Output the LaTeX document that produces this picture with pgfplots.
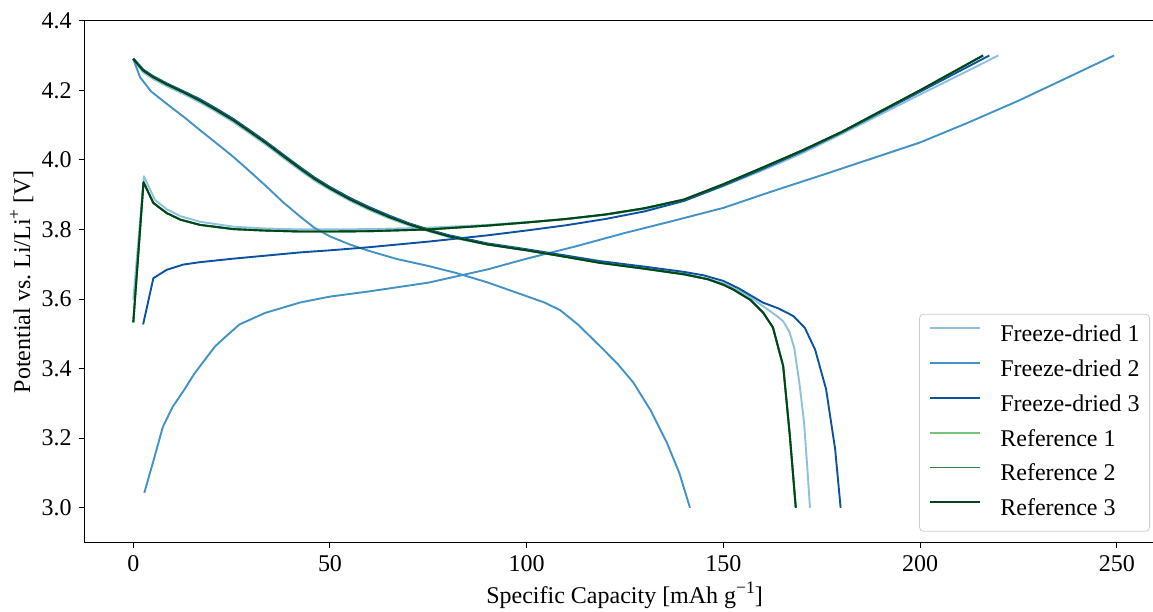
\documentclass[border=0pt]{standalone}
\usepackage{fontspec}
\setmainfont{Liberation Serif}
\usepackage{pgfplots}
\usepackage{pgfplotstable}
\pgfplotsset{compat=1.18}

\definecolor{fdA}{HTML}{8CC0DE}
\definecolor{fdB}{HTML}{4292C6}
\definecolor{fdC}{HTML}{0B52A0}
\definecolor{refA}{HTML}{74C476}
\definecolor{refB}{HTML}{238B45}
\definecolor{refC}{HTML}{00441B}

\newcommand{\sups}[1]{\raisebox{0.42em}{\fontsize{8.8}{10}\selectfont #1}}

% Reference cells: charge and discharge (capacity in mAh/g, potential in V)
\pgfplotstableread{
x y
0.0 3.533
2.6 3.936
5.1 3.876
8.5 3.847
12 3.828
17 3.813
25.4 3.801
33 3.797
42.4 3.794
50 3.794
60 3.795
75 3.800
90 3.811
100 3.820
110 3.830
120 3.843
130 3.861
140 3.886
150 3.930
160 3.978
170 4.027
180 4.080
190 4.140
200 4.200
208 4.250
216 4.300
}\refcharge
\pgfplotstableread{
x y
0.0 4.290
2.5 4.257
5 4.238
8.5 4.217
13 4.193
17 4.170
21 4.144
25.4 4.114
29.5 4.082
33.9 4.047
38 4.012
42.4 3.975
46 3.946
50 3.918
55 3.887
60 3.860
65 3.836
70 3.815
75 3.797
80 3.781
90 3.757
100 3.740
110 3.721
118.6 3.704
130 3.687
140 3.671
146 3.657
150 3.641
152.4 3.628
156.8 3.598
160.1 3.561
162.6 3.518
165.2 3.407
166.9 3.206
168.4 3.000
}\refdischarge

\begin{document}
\begin{tikzpicture}
\begin{axis}[
  at={(0,0)}, anchor=south west,
  scale only axis, width=534.5pt, height=261pt,
  xmin=-12.46, xmax=259.2, ymin=2.9, ymax=4.4,
  axis x line*=box, axis y line*=left,
  axis line style={-, line width=0.55pt, black},
  xtick={0,50,100,150,200,250},
  ytick={3.0,3.2,3.4,3.6,3.8,4.0,4.2,4.4},
  xtick pos=lower, ytick pos=left,
  tick align=outside, major tick length=2.8pt,
  tick style={line width=0.5pt, black},
  /pgf/number format/assume math mode=true,
  yticklabel style={/pgf/number format/.cd, fixed, fixed zerofill, precision=1},
  tick label style={font=\fontsize{12}{14}\selectfont},
  label style={font=\fontsize{12}{14}\selectfont},
  xlabel={Specific Capacity [mAh g\sups{−1}]},
  ylabel={Potential vs.\ Li/Li\sups{+} [V]},
  xlabel style={at={(axis description cs:0.5056,-0.1169)}, anchor=base},
  ylabel style={at={(axis description cs:-0.0586,0.5)}, anchor=center, rotate=0},
  every axis plot/.append style={line width=0.95pt, line join=round},
  legend cell align=left,
  legend image code/.code={\draw[#1, line width=0.95pt] (0pt,3.7pt) -- (25pt,3.7pt);},
  legend style={at={(axis description cs:0.9972,0.021)}, anchor=south east,
    draw=black!20, rounded corners=2pt, fill=white,
    font=\fontsize{12}{14}\selectfont,
    inner xsep=5pt, inner ysep=4.75pt, row sep=5.4pt, column sep=9.5pt,
    nodes={inner sep=0pt, text height=9pt, text depth=3pt}},
]

% Freeze-dried 1
\addplot[color=fdA] coordinates {
(0.0,3.598) (2.7,3.953) (5.5,3.885) (8.5,3.858) (12,3.838) (17,3.822)
(25.4,3.808) (33,3.803) (42.4,3.800) (50,3.800) (60,3.801) (75,3.805)
(90,3.813) (100,3.821) (110,3.830) (120,3.842) (130,3.859) (140,3.883)
(150,3.925) (160,3.970) (170,4.019) (180,4.074) (190,4.131) (200,4.188)
(210,4.244) (219.9,4.300)};
\addlegendentry{Freeze-dried 1}
\addplot[color=fdA, forget plot] coordinates {
(0.0,4.288) (2.5,4.252) (5,4.233) (8.5,4.212) (13,4.188) (17,4.165)
(21,4.139) (25.4,4.109) (29.5,4.077) (33.9,4.042) (38,4.007) (42.4,3.970)
(46,3.941) (50,3.914) (55,3.883) (60,3.856) (65,3.832) (70,3.812) (75,3.795)
(80,3.779) (90,3.756) (100,3.740) (110,3.722) (118.6,3.706) (130,3.689)
(140,3.673) (146,3.658) (150,3.645) (155,3.618) (158,3.596) (161,3.572)
(163.5,3.552) (165.2,3.536) (166.8,3.505) (168,3.460) (169.3,3.360)
(170.5,3.245) (171.3,3.120) (172,3.000)};

% Freeze-dried 2
\addplot[color=fdB] coordinates {
(2.8,3.043) (5,3.130) (7.5,3.232) (10,3.290) (13,3.340) (15.5,3.385)
(18.3,3.427) (20.8,3.464) (23.3,3.490) (27,3.527) (33.5,3.560) (42.4,3.590)
(50,3.607) (60,3.622) (75,3.647) (90,3.685) (100,3.716) (112,3.750)
(125,3.790) (137,3.824) (150,3.862) (162,3.908) (175,3.956) (187,4.001)
(200,4.050) (212,4.106) (225,4.170) (237,4.234) (249.3,4.300)};
\addlegendentry{Freeze-dried 2}
\addplot[color=fdB, forget plot] coordinates {
(0.0,4.290) (1.7,4.238) (4.5,4.197) (8.5,4.161) (13,4.122) (17,4.085)
(21,4.049) (25.4,4.009) (29.5,3.968) (33.9,3.923) (38,3.879) (42.4,3.837)
(46,3.805) (50,3.780) (55,3.757) (60,3.738) (67,3.715) (75,3.695)
(82,3.675) (90,3.648) (100,3.608) (104.5,3.590) (108.5,3.568) (113,3.527)
(118.6,3.465) (123,3.415) (127.1,3.360) (131.5,3.280) (135.6,3.188)
(138.8,3.100) (141.5,3.000)};

% Freeze-dried 3
\addplot[color=fdC] coordinates {
(2.5,3.527) (5.1,3.660) (8.5,3.684) (12.7,3.699) (17,3.706) (25.4,3.716)
(33,3.724) (42.4,3.734) (50,3.740) (60,3.749) (75,3.765) (90,3.783)
(100,3.797) (110,3.812) (120,3.830) (130,3.852) (140,3.882) (150,3.926)
(160,3.974) (170,4.024) (180,4.078) (190,4.137) (200,4.196) (210,4.255)
(217.6,4.300)};
\addlegendentry{Freeze-dried 3}
\addplot[color=fdC, forget plot] coordinates {
(0.0,4.292) (2.5,4.260) (5,4.241) (8.5,4.220) (13,4.196) (17,4.174)
(21,4.148) (25.4,4.118) (29.5,4.086) (33.9,4.051) (38,4.016) (42.4,3.979)
(46,3.950) (50,3.922) (55,3.891) (60,3.864) (65,3.840) (70,3.818) (75,3.800)
(80,3.784) (90,3.760) (100,3.743) (110,3.725) (118.6,3.709) (130,3.693)
(140,3.678) (145,3.668) (150,3.652) (154,3.630) (157,3.610) (160,3.590)
(164,3.573) (167.8,3.551) (170.7,3.517) (173.3,3.455) (176.1,3.341)
(178.4,3.169) (179.8,3.000)};

% Reference 1--3
\addplot[color=refA] table[x=x, y=y] {\refcharge};
\addlegendentry{Reference 1}
\addplot[color=refA, forget plot] table[x=x, y=y] {\refdischarge};
\addplot[color=refB] table[x=x, y=y] {\refcharge};
\addlegendentry{Reference 2}
\addplot[color=refB, forget plot] table[x=x, y=y] {\refdischarge};
\addplot[color=refC] table[x=x, y=y] {\refcharge};
\addlegendentry{Reference 3}
\addplot[color=refC, forget plot] table[x=x, y=y] {\refdischarge};

\end{axis}
\pgfresetboundingbox
\path[use as bounding box] (-42.15pt,-34.65pt) rectangle (534.5pt,271.35pt);
\end{tikzpicture}
\end{document}
